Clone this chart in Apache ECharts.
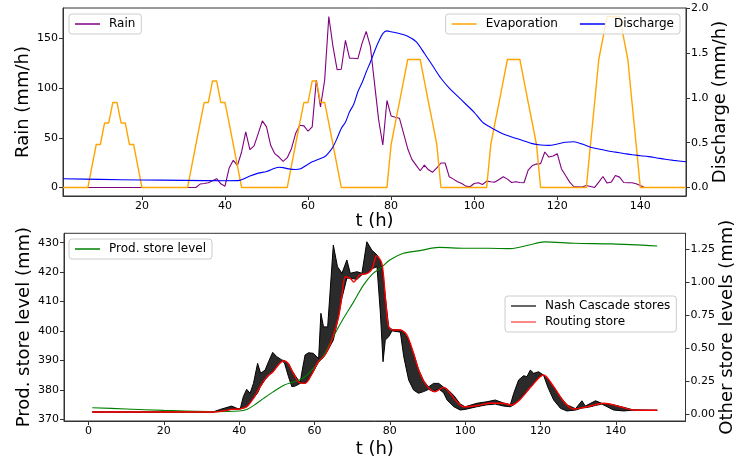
<!DOCTYPE html>
<html><head><meta charset="utf-8">
<script src="https://cdn.jsdelivr.net/npm/echarts@6/dist/echarts.min.js"></script>
<style>html,body{margin:0;padding:0;background:#fff}#c{width:737px;height:462px}</style>
</head><body><div id="c"></div>
<script>
// ---------- top panel data (hourly, t = 1..151) ----------
const hours = Array.from({length: 151}, (_, i) => i + 1);
const rain = [
  0,0,0,0,0,0,0,0,0,0, 0,0,0,0,0,0,0,0,0,0, 0,0,0,0,0,0,0,0,0,0, 0,0,0,
  3.4,4.0,4.7,6.7,8.8,3.7,1.3,19.5,27.3,22.2,35.7,55.9,38,41.8,54.2,67,61,42.4,34,30.6,26.3,30,
  39,54.2,62.6,62,56.6,61,108,81,108,172,142,118.5,119,148,130,130,129.6,145,157,142,105,68,42.7,
  87.5,72,70.7,69.7,54.5,39,28.3,22.5,16.8,22.5,17.8,15.4,19.7,24.6,24.6,10.7,8.4,5.7,4,1.3,0.7,
  4,4.7,3,6.4,5.7,5.4,8,10.8,8.4,5,5.7,5,4.7,17.5,22,23.5,24,35.7,30.6,31.6,34,18.9,12,5.4,
  0.7,0.7,0.5,2,1,0,5.4,11,4.4,5.4,12,10.4,5,4.7,4.7,3.7,2,0,
  0,0,0,0,0,0,0,0,0,0
];
const evaporation = [
  0,0,0,0,0,0,0,
  0.24,0.48,0.48,0.72,0.72,0.95,0.95,0.72,0.72,0.48,0.48,0.24,0,
  0,0,0,0,0,0,0,0,0,0,0,
  0.24,0.48,0.72,0.95,0.95,1.19,1.19,0.95,0.95,0.72,0.48,0.24,0,
  0,0,0,0,0,0,0,0,0,0,0,
  0.24,0.48,0.72,0.95,0.95,1.19,1.19,0.95,0.95,0.72,0.48,0.24,0,
  0,0,0,0,0,0,0,0,0,0,0,
  0.48,0.72,0.95,1.19,1.43,1.43,1.43,1.43,1.19,0.95,0.72,0.48,0,
  0,0,0,0,0,0,0,0,0,0,0,
  0.48,0.72,0.95,1.19,1.43,1.43,1.43,1.43,1.19,0.95,0.72,0.48,0,
  0,0,0,0,0,0,0,0,0,0,0,
  0.48,0.95,1.43,1.67,1.91,1.91,1.91,1.91,1.67,1.43,0.95,0.48,0,
  0,0,0,0,0,0,0,0,0,0,0
];
const dischargeT = [1,10,20,30,40,43,44,46,48,50,52,53,54,55,57,58,60,61,63,64,65,66,67,68,69,70,71,72,73,74,75,76,77,78,79,80,82,84,86,88,90,92,94,96,98,100,102,104,106,108,110,112,114,116,118,120,122,124,126,128,130,132,134,136,138,140,142,144,146,148,151];
const dischargeV = [0.097,0.09,0.084,0.079,0.075,0.076,0.086,0.127,0.16,0.178,0.215,0.225,0.222,0.21,0.2,0.205,0.26,0.286,0.324,0.343,0.39,0.453,0.55,0.66,0.73,0.845,0.93,1.07,1.17,1.29,1.4,1.52,1.63,1.72,1.75,1.74,1.72,1.69,1.63,1.5,1.36,1.22,1.11,1.02,0.93,0.84,0.73,0.67,0.62,0.58,0.55,0.52,0.49,0.475,0.47,0.485,0.505,0.51,0.485,0.45,0.43,0.41,0.395,0.38,0.365,0.355,0.345,0.33,0.315,0.303,0.287];

// ---------- bottom panel data ----------
const prodT = [1,10,20,33,40,42,44,46.5,49,52,54,56,58,60,62.5,65,67.7,70.4,73,75.5,77.5,80,83.6,88,93,100,106,112,117,121,129,139,151];
const prodLevel = [373.9,373.5,373.0,372.6,372.8,373.3,374.8,377.1,379.3,381.6,382.5,383.3,385,387.8,391.8,398,404.3,409.9,415.6,419.5,421.3,424.1,426.4,427.3,428.4,428.1,428.1,428,429.2,430.3,429.8,429.6,428.9];
const routeT = [1,33,36,38,40,42,43.8,45.6,47.4,49,50.4,51.8,53,54.4,56,57.5,59.3,61,62.8,64.6,66.4,67.3,68.2,69.5,70.4,72,74,75.3,76.5,77.9,78.8,79.7,81,82.8,84.5,86.3,88,90,92,94.3,96,97.8,99.6,103,106.7,110,112.4,114.6,117.3,120.8,123.5,126.2,128.8,132.4,136.8,141.2,144.8,151];
const routeLevel = [0.015,0.015,0.025,0.035,0.038,0.055,0.119,0.207,0.283,0.32,0.371,0.404,0.384,0.308,0.237,0.232,0.303,0.396,0.447,0.56,0.737,0.90,1.04,1.028,1.0,1.053,1.066,1.10,1.2,1.14,0.89,0.66,0.636,0.636,0.6,0.46,0.308,0.207,0.169,0.202,0.157,0.093,0.055,0.063,0.081,0.081,0.068,0.11,0.2,0.295,0.207,0.093,0.038,0.055,0.081,0.055,0.03,0.028];
const nashT    = [1,33,35,38,39.5,40.3,41.1,42,42.9,43.8,44.9,45.7,46.9,47.8,48.9,50,51.3,52,53.1,54,54.9,56.2,56.6,57.5,58.4,59.7,61.1,61.7,62.4,63.5,65,66.1,67.3,68.6,69.5,71.3,72.6,73.9,75.2,76.6,77.5,78.2,78.8,79.7,80.6,82.8,83.7,85,86.3,87.6,89,90.3,91.6,93,94.3,95.2,97,98.7,100,103.1,105.8,108,110.2,112,112.9,114.2,115.5,116.4,117.3,118.2,119.5,120.8,122,123.5,125.3,127,129.3,131,131.9,133.3,134.6,136.3,139.4,142.1,144.8,151];
const nashLow  = [0.015,0.015,0.02,0.035,0.037,0.038,0.045,0.055,0.09,0.119,0.16,0.21,0.26,0.29,0.32,0.36,0.40,0.39,0.283,0.207,0.212,0.232,0.235,0.232,0.26,0.32,0.396,0.41,0.43,0.48,0.56,0.70,0.88,1.03,1.028,1.02,1.055,1.066,1.10,1.116,0.763,0.396,0.56,0.586,0.63,0.62,0.434,0.258,0.182,0.157,0.17,0.187,0.17,0.19,0.16,0.106,0.055,0.03,0.035,0.055,0.07,0.075,0.06,0.055,0.07,0.1,0.15,0.17,0.2,0.235,0.28,0.295,0.2,0.106,0.043,0.023,0.03,0.045,0.048,0.055,0.065,0.075,0.03,0.023,0.03,0.028];
const nashHigh = [0.015,0.015,0.035,0.06,0.042,0.04,0.131,0.187,0.157,0.232,0.384,0.308,0.333,0.396,0.467,0.434,0.41,0.404,0.384,0.33,0.29,0.237,0.308,0.447,0.464,0.46,0.42,0.763,0.66,0.66,1.28,1.116,1.066,1.167,1.066,1.078,1.066,1.305,1.242,1.205,1.16,1.06,0.89,0.66,0.64,0.636,0.62,0.56,0.46,0.34,0.25,0.205,0.232,0.232,0.202,0.19,0.14,0.075,0.055,0.081,0.093,0.106,0.083,0.07,0.157,0.258,0.29,0.283,0.333,0.308,0.32,0.295,0.26,0.207,0.13,0.07,0.04,0.1,0.06,0.081,0.1,0.081,0.07,0.05,0.03,0.028];

// ---------- tick values ----------
const topXTicks = [20,40,60,80,100,120,140];
const botXTicks = [0,20,40,60,80,100,120,140];
const rainTicks = [0,50,100,150];
const dischTicks = [0,0.5,1.0,1.5,2.0];
const prodTicks = [370,380,390,400,410,420,430];
const otherTicks = [0,0.25,0.5,0.75,1.0,1.25];

const F = 'DejaVu Sans';
const AX = '#333';
const pairs = (xs, ys) => xs.map((x, i) => [x, ys[i]]);

function xAx(grid, min, max, ticks, gap) {
  return {
    gridIndex: grid, type: 'value', min: min, max: max,
    name: 't (h)', nameLocation: 'middle', nameGap: gap, nameMoveOverlap: false,
    nameTextStyle: {fontFamily: F, fontSize: 18, color: '#000'},
    axisLine: {show: true, onZero: false, lineStyle: {color: AX, width: 1}},
    axisTick: {show: true, length: 4, customValues: ticks, lineStyle: {color: AX}},
    axisLabel: {customValues: ticks, fontFamily: F, fontSize: 11, color: '#000', margin: 5},
    splitLine: {show: false}
  };
}
function yAx(grid, pos, min, max, ticks, dec, name, gap) {
  return {
    gridIndex: grid, type: 'value', position: pos, min: min, max: max,
    name: name, nameLocation: 'middle', nameGap: gap, nameRotate: 90, nameMoveOverlap: false,
    nameTextStyle: {fontFamily: F, fontSize: 18, color: '#000'},
    axisLine: {show: true, onZero: false, lineStyle: {color: AX, width: 1}},
    axisTick: {show: true, length: 4, customValues: ticks, lineStyle: {color: AX}},
    axisLabel: {customValues: ticks, fontFamily: F, fontSize: 11, color: '#000', margin: 5,
      formatter: v => dec === null ? String(v) : Number(v).toFixed(dec)},
    splitLine: {show: false}
  };
}
const legendBase = {
  backgroundColor: 'rgba(255,255,255,0.8)', borderColor: '#cccccc', borderWidth: 1, borderRadius: 3,
  padding: [4, 6], itemWidth: 25, itemHeight: 1.5, icon: 'rect',
  textStyle: {fontFamily: F, fontSize: 12, color: '#000', padding: [0, 0, 0, 4]}
};

const chart = echarts.init(document.getElementById('c'), null, {renderer: 'canvas'});
chart.setOption({
  animation: false,
  backgroundColor: '#fff',
  grid: [
    {left: 63, right: 51, top: 8, height: 188, show: true, borderColor: AX, borderWidth: 1, outerBoundsMode: 'none'},
    {left: 64, right: 51.5, top: 233.3, height: 187.7, show: true, borderColor: AX, borderWidth: 1, outerBoundsMode: 'none'}
  ],
  xAxis: [xAx(0, 1, 151, topXTicks, 16), xAx(1, -6.5, 158.5, botXTicks, 19)],
  yAxis: [
    yAx(0, 'left', -8.6, 180.6, rainTicks, null, 'Rain (mm/h)', 31),
    yAx(0, 'right', -0.0955, 2.0055, dischTicks, 1, 'Discharge (mm/h)', 25),
    yAx(1, 'left', 369.4, 433.2, prodTicks, null, 'Prod. store level (mm)', 31),
    yAx(1, 'right', -0.053, 1.369, otherTicks, 2, 'Other store levels (mm)', 33)
  ],
  legend: [
    Object.assign({}, legendBase, {left: 69, top: 14, data: ['Rain']}),
    Object.assign({}, legendBase, {right: 57, top: 14, itemGap: 22, data: ['Evaporation', 'Discharge']}),
    Object.assign({}, legendBase, {left: 69, top: 239, data: ['Prod. store level']}),
    Object.assign({}, legendBase, {left: 505, top: 296, orient: 'vertical', itemGap: 4,
      data: [{name: 'Nash Cascade stores', itemStyle: {color: '#333'}}, {name: 'Routing store', itemStyle: {color: '#ff6060'}}]})
  ],
  series: [
    {name: 'Rain', type: 'line', xAxisIndex: 0, yAxisIndex: 0, data: pairs(hours, rain),
      showSymbol: false, symbol: 'none', color: '#800080', lineStyle: {width: 1.1, color: '#800080'}},
    {name: 'Evaporation', type: 'line', xAxisIndex: 0, yAxisIndex: 1, data: pairs(hours, evaporation),
      showSymbol: false, symbol: 'none', color: '#FFA500', lineStyle: {width: 1.4, color: '#FFA500'}},
    {name: 'Discharge', type: 'line', xAxisIndex: 0, yAxisIndex: 1, data: pairs(dischargeT, dischargeV),
      smooth: 0.3, showSymbol: false, symbol: 'none', color: '#0000FF', lineStyle: {width: 1.1, color: '#0000FF'}},
    {name: 'Prod. store level', type: 'line', xAxisIndex: 1, yAxisIndex: 2, data: pairs(prodT, prodLevel),
      smooth: 0.3, showSymbol: false, symbol: 'none', color: '#008000', lineStyle: {width: 1.1, color: '#008000'}},
    {name: 'Nash Cascade stores', type: 'custom', xAxisIndex: 1, yAxisIndex: 3, color: '#000',
      data: [[nashT[0], nashLow[0]]],
      renderItem: function (params, api) {
        const hi = nashT.map((t, i) => api.coord([t, nashHigh[i]]));
        const lo = nashT.map((t, i) => api.coord([t, nashLow[i]]));
        const poly = hi.concat(lo.slice().reverse());
        return {type: 'group', children: [
          {type: 'polygon', shape: {points: poly}, style: {fill: 'rgba(20,20,20,0.9)', stroke: 'rgba(0,0,0,0)'}},
          {type: 'polyline', shape: {points: hi}, style: {stroke: '#000', lineWidth: 1, fill: null}},
          {type: 'polyline', shape: {points: lo}, style: {stroke: '#000', lineWidth: 1, fill: null}}
        ]};
      }},
    {name: 'Routing store', type: 'line', xAxisIndex: 1, yAxisIndex: 3, data: pairs(routeT, routeLevel),
      smooth: 0.3, showSymbol: false, symbol: 'none', color: '#ff0000', lineStyle: {width: 1.4, color: '#ff0000'}}
  ]
});
</script></body></html>
